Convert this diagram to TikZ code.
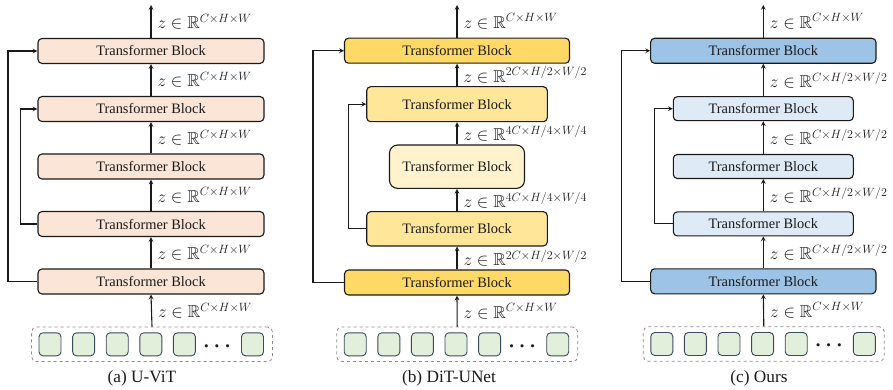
\documentclass[tikz,border=0pt]{standalone}
\usepackage{amsmath}
\usepackage{amssymb}
\usepackage{fontspec}
\setmainfont{Liberation Serif}
\definecolor{blkink}{HTML}{1A1A1A}
\definecolor{peach}{HTML}{FBE5D6}
\definecolor{goldA}{HTML}{FFD966}
\definecolor{goldB}{HTML}{FFE699}
\definecolor{goldC}{HTML}{FFF2CC}
\definecolor{blueA}{HTML}{9DC3E6}
\definecolor{blueB}{HTML}{DEEBF7}
\definecolor{tokfill}{HTML}{E2EFDA}
\definecolor{tokline}{HTML}{3A4A5E}
\definecolor{frameline}{HTML}{8C8C8C}

\begin{document}
\begin{tikzpicture}[x=1pt, y=-1pt, >=stealth,
                    every node/.style={text=blkink},
                    tblock/.style={draw=blkink, line width=1.1pt, rounded corners=4pt,
                                   inner sep=0pt, minimum height=25pt, font=\rmfamily\Large},
                    tok/.style={draw=tokline, fill=tokfill, line width=0.9pt, rounded corners=4pt,
                                inner sep=0pt, minimum width=22pt, minimum height=23pt},
                    tokframe/.style={draw=frameline, dashed, line width=0.8pt, rounded corners=5pt,
                                     inner sep=0pt, minimum width=241pt, minimum height=34.5pt},
                    dotsnode/.style={inner sep=0pt, font=\huge},
                    flow/.style={draw=blkink, line width=1.1pt, ->},
                    dimlbl/.style={right, inner sep=1pt, xshift=5pt, font=\LARGE},
                    capt/.style={font=\rmfamily\LARGE}]

  \useasboundingbox (0,0) rectangle (893,390);

  %% (a) U-ViT：五個同寬的區塊
  \node[tblock, fill=peach, minimum width=226pt] (a1) at (151,51)    {Transformer Block};
  \node[tblock, fill=peach, minimum width=226pt] (a2) at (151,109)   {Transformer Block};
  \node[tblock, fill=peach, minimum width=226pt] (a3) at (151,166.5) {Transformer Block};
  \node[tblock, fill=peach, minimum width=226pt] (a4) at (151,224)   {Transformer Block};
  \node[tblock, fill=peach, minimum width=226pt] (a5) at (151,281.5) {Transformer Block};
  \node[tokframe] (ta) at (152,344.3) {};
  \foreach \k/\off in {1/-102, 2/-68.4, 3/-34.8, 4/-1.2, 5/32.4, 6/100.5}
    {\node[tok] (ta\k) at ([xshift=\off pt]ta.center) {};}
  \node[dotsnode] (tadots) at ([xshift=67pt, yshift=-2pt]ta.center) {$\boldsymbol{\cdots}$};
  \coordinate (aout) at (151,5);

  \draw[flow] (ta.north) -- node[dimlbl] {$z\in\mathbb{R}^{C\times H\times W}$} (a5.south);
  \draw[flow] (a5.north) -- node[dimlbl] {$z\in\mathbb{R}^{C\times H\times W}$} (a4.south);
  \draw[flow] (a4.north) -- node[dimlbl] {$z\in\mathbb{R}^{C\times H\times W}$} (a3.south);
  \draw[flow] (a3.north) -- node[dimlbl] {$z\in\mathbb{R}^{C\times H\times W}$} (a2.south);
  \draw[flow] (a2.north) -- node[dimlbl] {$z\in\mathbb{R}^{C\times H\times W}$} (a1.south);
  \draw[flow] (a1.north) -- node[dimlbl] {$z\in\mathbb{R}^{C\times H\times W}$} (aout);

  %% 跳接
  \draw[flow] (a5.west) -- ++(-29.5,0) |- (a1.west);
  \draw[flow] (a4.west) -- ++(-17,0) |- (a2.west);
  \node[capt] (capa) at (142,378) {(a) U-ViT};

  %% (b) DiT-UNet：愈往中間愈窄
  \node[tblock, fill=goldA, minimum width=225pt] (b1) at (457,50.7) {Transformer Block};
  \node[tblock, fill=goldB, minimum width=180.6pt, minimum height=35pt] (b2) at (457,104.2) {Transformer Block};
  \node[tblock, fill=goldC, minimum width=135pt, minimum height=43.3pt, rounded corners=8pt]
    (b3) at (457,166.7) {Transformer Block};
  \node[tblock, fill=goldB, minimum width=180.6pt, minimum height=34.3pt] (b4) at (457,228.8) {Transformer Block};
  \node[tblock, fill=goldA, minimum width=225pt] (b5) at (457,282.5) {Transformer Block};
  \node[tokframe] (tb) at (457.2,344.3) {};
  \foreach \k/\off in {1/-102, 2/-68.4, 3/-34.8, 4/-1.2, 5/32.4, 6/100.5}
    {\node[tok] (tb\k) at ([xshift=\off pt]tb.center) {};}
  \node[dotsnode] (tbdots) at ([xshift=67pt, yshift=-2pt]tb.center) {$\boldsymbol{\cdots}$};
  \coordinate (bout) at (457,5);

  \draw[flow] (tb.north) -- node[dimlbl] {$z\in\mathbb{R}^{C\times H\times W}$} (b5.south);
  \draw[flow] (b5.north) -- node[dimlbl] {$z\in\mathbb{R}^{2C\times H/2\times W/2}$} (b4.south);
  \draw[flow] (b4.north) -- node[dimlbl] {$z\in\mathbb{R}^{4C\times H/4\times W/4}$} (b3.south);
  \draw[flow] (b3.north) -- node[dimlbl] {$z\in\mathbb{R}^{4C\times H/4\times W/4}$} (b2.south);
  \draw[flow] (b2.north) -- node[dimlbl] {$z\in\mathbb{R}^{2C\times H/2\times W/2}$} (b1.south);
  \draw[flow] (b1.north) -- node[dimlbl] {$z\in\mathbb{R}^{C\times H\times W}$} (bout);

  \draw[flow] (b5.west) -- ++(-31,0) |- (b1.west);
  \draw[flow] (b4.west) -- ++(-17.4,0) |- (b2.west);
  \node[capt] (capb) at (449,378) {(b) DiT-UNet};

  %% (c) Ours：中間三塊同寬
  \node[tblock, fill=blueA, minimum width=225.3pt] (c1) at (763.3,50.8) {Transformer Block};
  \node[tblock, fill=blueB, minimum width=180pt, minimum height=24pt] (c2) at (763.3,108.7) {Transformer Block};
  \node[tblock, fill=blueB, minimum width=180pt, minimum height=24pt] (c3) at (763.3,166.5) {Transformer Block};
  \node[tblock, fill=blueB, minimum width=180pt, minimum height=24pt] (c4) at (763.3,223.9) {Transformer Block};
  \node[tblock, fill=blueA, minimum width=225.3pt] (c5) at (763.3,281.3) {Transformer Block};
  \node[tokframe] (tc) at (763.8,344) {};
  \foreach \k/\off in {1/-102, 2/-68.4, 3/-34.8, 4/-1.2, 5/32.4, 6/100.5}
    {\node[tok] (tc\k) at ([xshift=\off pt]tc.center) {};}
  \node[dotsnode] (tcdots) at ([xshift=67pt, yshift=-2pt]tc.center) {$\boldsymbol{\cdots}$};
  \coordinate (cout) at (763.3,5);

  \draw[flow] (tc.north) -- node[dimlbl] {$z\in\mathbb{R}^{C\times H\times W}$} (c5.south);
  \draw[flow] (c5.north) -- node[dimlbl] {$z\in\mathbb{R}^{C\times H/2\times W/2}$} (c4.south);
  \draw[flow] (c4.north) -- node[dimlbl] {$z\in\mathbb{R}^{C\times H/2\times W/2}$} (c3.south);
  \draw[flow] (c3.north) -- node[dimlbl] {$z\in\mathbb{R}^{C\times H/2\times W/2}$} (c2.south);
  \draw[flow] (c2.north) -- node[dimlbl] {$z\in\mathbb{R}^{C\times H/2\times W/2}$} (c1.south);
  \draw[flow] (c1.north) -- node[dimlbl] {$z\in\mathbb{R}^{C\times H\times W}$} (cout);

  \draw[flow] (c5.west) -- ++(-29,0) |- (c1.west);
  \draw[flow] (c4.west) -- ++(-18.3,0) |- (c2.west);
  \node[capt] (capc) at (759,378) {(c) Ours};

\end{tikzpicture}
\end{document}
